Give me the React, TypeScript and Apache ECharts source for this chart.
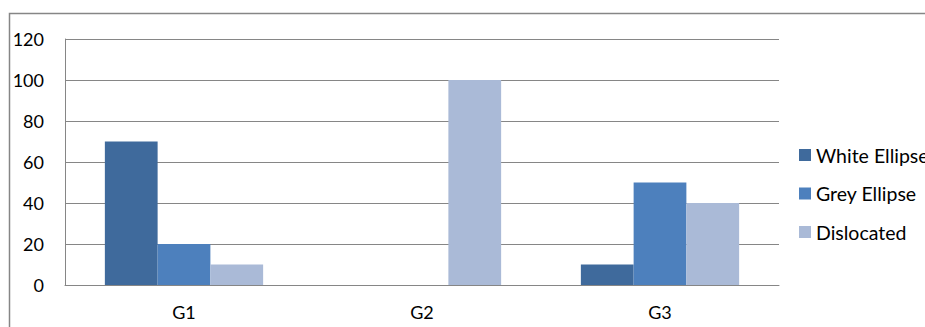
import React, { useEffect, useRef } from "react";
import * as echarts from "echarts";

const categories = ["G1", "G2", "G3"];
const whiteEllipse = [70, 0, 10];
const greyEllipse = [20, 0, 50];
const dislocated = [10, 100, 40];
const yTicks = { min: 0, max: 120, interval: 20 };

const FONT = "Lato";
const AXIS_GREY = "#868686";

export default function App() {
  const ref = useRef<HTMLDivElement>(null);

  useEffect(() => {
    const chart = echarts.init(ref.current!, null, { renderer: "svg" });
    const bar = (name: string, data: number[], color: string) => ({
      name,
      type: "bar",
      data,
      barGap: "0%",
      barCategoryGap: "33.5%",
      itemStyle: { color },
    });
    chart.setOption({
      animation: false,
      backgroundColor: "#ffffff",
      textStyle: { fontFamily: FONT },
      grid: { left: 65, right: 146, top: 39, bottom: 42 },
      xAxis: {
        type: "category",
        data: categories,
        axisLine: { lineStyle: { color: AXIS_GREY, width: 1 } },
        axisTick: { show: false },
        axisLabel: { color: "#000", fontSize: 18, fontFamily: FONT, margin: 18 },
      },
      yAxis: {
        type: "value",
        min: yTicks.min,
        max: yTicks.max,
        interval: yTicks.interval,
        axisLine: { show: true, lineStyle: { color: AXIS_GREY, width: 1 } },
        axisTick: { show: false },
        splitLine: { lineStyle: { color: AXIS_GREY, width: 1 } },
        axisLabel: { color: "#000", fontSize: 18, fontFamily: FONT, margin: 21 },
      },
      legend: {
        orient: "vertical",
        left: 799,
        top: 145,
        padding: 0,
        icon: "rect",
        itemWidth: 12,
        itemHeight: 12,
        itemGap: 18.5,
        textStyle: { color: "#000", fontSize: 19.5, fontFamily: FONT, lineHeight: 20 },
      },
      graphic: [
        {
          type: "rect",
          shape: { x: 9.5, y: 13.5, width: 940, height: 340 },
          style: { fill: "none", stroke: AXIS_GREY, lineWidth: 1.5 },
          silent: true,
        },
      ],
      series: [
        bar("White Ellipse", whiteEllipse, "#3F6A9C"),
        bar("Grey Ellipse", greyEllipse, "#4D80BD"),
        bar("Dislocated", dislocated, "#AABAD7"),
      ],
    });
    return () => chart.dispose();
  }, []);

  return (
    <div
      ref={ref}
      style={{ position: "absolute", left: 0, top: 0, width: 925, height: 327 }}
    />
  );
}
